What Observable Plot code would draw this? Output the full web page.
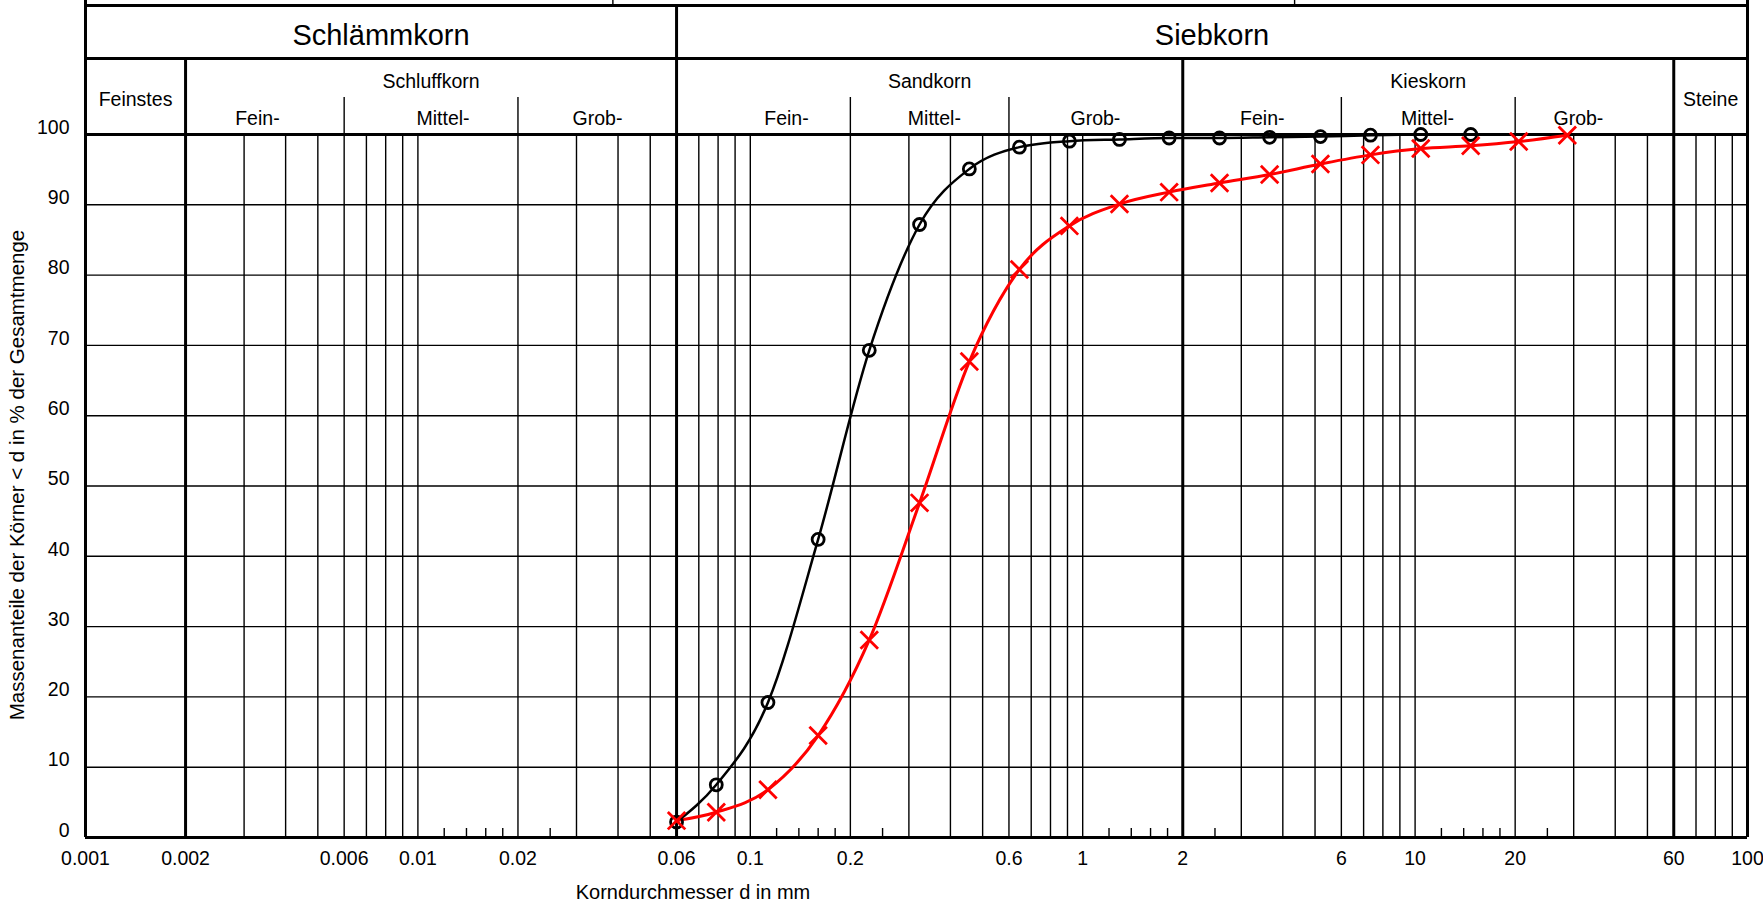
<!DOCTYPE html>
<html>
<head>
<meta charset="utf-8">
<script src="https://cdn.jsdelivr.net/npm/d3@7"></script>
<script src="https://cdn.jsdelivr.net/npm/@observablehq/plot@0.6"></script>
<style>
  html, body { margin: 0; padding: 0; background: white; overflow: hidden; }
  #chart svg { display: block; }
</style>
</head>
<body>
<div id="chart"></div>
<script>
// ---------- data ----------
// grain size (mm) and cumulative passing (%) — series 1 (black circles)
const sizes1 = [0.06, 0.079, 0.113, 0.16, 0.228, 0.323, 0.456, 0.645, 0.912, 1.29, 1.82, 2.58, 3.65, 5.19, 7.34, 10.4, 14.7];
const pass1  = [2.2, 7.5, 19.2, 42.4, 69.3, 87.2, 95.1, 98.2, 99.05, 99.3, 99.5, 99.5, 99.6, 99.7, 99.9, 100, 100];
// series 2 (red crosses)
const sizes2 = [0.06, 0.079, 0.113, 0.16, 0.228, 0.323, 0.456, 0.645, 0.912, 1.29, 1.82, 2.58, 3.65, 5.19, 7.34, 10.4, 14.7, 20.5, 28.7];
const pass2  = [2.4, 3.6, 6.8, 14.5, 28.1, 47.6, 67.7, 80.8, 87.0, 90.1, 91.8, 93.1, 94.3, 95.8, 97.1, 98.0, 98.4, 99.0, 99.9];

// axis ticks
const xTickValues = [0.001, 0.002, 0.006, 0.01, 0.02, 0.06, 0.1, 0.2, 0.6, 1, 2, 6, 10, 20, 60, 100];
const xTickLabels = ["0.001", "0.002", "0.006", "0.01", "0.02", "0.06", "0.1", "0.2", "0.6", "1", "2", "6", "10", "20", "60", "100"];
const yTickValues = [0, 10, 20, 30, 40, 50, 60, 70, 80, 90, 100];
const yGridThin = [10, 20, 30, 40, 50, 60, 70, 80, 90];

// vertical grid of the sieve chart
const gridThin = [0.003, 0.004, 0.005, 0.007, 0.008, 0.009, 0.01, 0.03, 0.04, 0.05, 0.07, 0.08, 0.09, 0.1,
                  0.3, 0.4, 0.5, 0.7, 0.8, 0.9, 1, 3, 4, 5, 7, 8, 9, 10, 30, 40, 50, 70, 80, 90];
const subDividers = [0.006, 0.02, 0.2, 0.6, 6, 20];
const minorTicks = [0.012, 0.014, 0.016, 0.018, 0.025, 0.12, 0.14, 0.16, 0.18, 0.25,
                    1.2, 1.4, 1.6, 1.8, 2.5, 12, 14, 16, 18, 25];
const classBounds = [0.002, 2, 60];
const mainBound = [0.06];
const frameEdges = [0.001, 100];
const topRowDividers = [0.0386, 4.34];

// header classes
const mainNames = ["Schlämmkorn", "Siebkorn"];
const mainFrom = [0.001, 0.06];
const mainTo = [0.06, 100];
const classNames = ["Feinstes", "Schluffkorn", "Sandkorn", "Kieskorn", "Steine"];
const classFrom = [0.001, 0.002, 0.06, 2, 60];
const classTo = [0.002, 0.06, 2, 60, 100];
const classHasSub = [false, true, true, true, false];
const subNames = ["Fein-", "Mittel-", "Grob-", "Fein-", "Mittel-", "Grob-", "Fein-", "Mittel-", "Grob-"];
const subAt = [0.00329, 0.0119, 0.0347, 0.1285, 0.358, 1.092, 3.47, 10.9, 31.0];

const xTitle = "Korndurchmesser d in mm";
const yTitle = "Massenanteile der Körner < d in % der Gesamtmenge";

// ---------- tables ----------
const s1 = sizes1.map((d, i) => ({d, p: pass1[i]}));
const s2 = sizes2.map((d, i) => ({d, p: pass2[i]}));
const mains = mainNames.map((name, i) => ({name, c: Math.sqrt(mainFrom[i] * mainTo[i])}));
const classes = classNames.map((name, i) => ({name, c: Math.sqrt(classFrom[i] * classTo[i]), sub: classHasSub[i]}));
const subs = subNames.map((name, i) => ({name, c: subAt[i]}));
const xTicksT = xTickValues.map((v, i) => ({v, label: xTickLabels[i]}));

const W = 1763, H = 905, MT = 134, MB = 68, ML = 85, MR = 16;
const plotH = H - MT - MB;
const thin = 1.4, thick = 3;
const small = 19.5;

const chart = Plot.plot({
  width: W, height: H,
  marginTop: MT, marginBottom: MB, marginLeft: ML, marginRight: MR,
  x: {type: "log", domain: [0.001, 100], axis: null},
  y: {domain: [0, 100], axis: null},
  style: {fontFamily: "'Liberation Sans', Arial, sans-serif", fontSize: "19.5px", color: "black", background: "white", overflow: "visible"},
  marks: [
    // grid
    Plot.ruleY(yGridThin, {stroke: "black", strokeWidth: thin}),
    Plot.ruleX(gridThin, {stroke: "black", strokeWidth: thin}),
    Plot.ruleX(subDividers, {stroke: "black", strokeWidth: thin, insetTop: -37}),
    Plot.ruleX(minorTicks, {stroke: "black", strokeWidth: thin, insetTop: plotH - 9}),
    Plot.ruleX(classBounds, {stroke: "black", strokeWidth: thick, insetTop: -76}),
    Plot.ruleX(mainBound, {stroke: "black", strokeWidth: thick, insetTop: -129}),
    Plot.ruleX(frameEdges, {stroke: "black", strokeWidth: thick, insetTop: -MT}),
    Plot.ruleX(topRowDividers, {stroke: "black", strokeWidth: thin, insetTop: -MT, insetBottom: plotH + 129}),
    Plot.ruleY([0, 100], {stroke: "black", strokeWidth: thick}),
    Plot.ruleY([100], {stroke: "black", strokeWidth: thick, dy: -76}),
    Plot.ruleY([100], {stroke: "black", strokeWidth: thick, dy: -129}),
    // header texts
    Plot.text(mains, {x: "c", text: "name", frameAnchor: "top", textAnchor: "middle", lineAnchor: "bottom", dy: 44 - MT, fontSize: 29}),
    Plot.text(classes.filter(d => d.sub), {x: "c", text: "name", frameAnchor: "top", textAnchor: "middle", lineAnchor: "bottom", dy: 87 - MT, fontSize: small}),
    Plot.text(classes.filter(d => !d.sub), {x: "c", text: "name", frameAnchor: "top", textAnchor: "middle", lineAnchor: "bottom", dy: 105 - MT, fontSize: small}),
    Plot.text(subs, {x: "c", text: "name", frameAnchor: "top", textAnchor: "middle", lineAnchor: "bottom", dy: 124 - MT, fontSize: small}),
    // tick labels
    Plot.text(xTicksT, {x: "v", text: "label", frameAnchor: "bottom", textAnchor: "middle", lineAnchor: "top", dy: 14, fontSize: small}),
    Plot.text(yTickValues, {y: d => d, text: d => String(d), frameAnchor: "left", textAnchor: "end", lineAnchor: "middle", dx: -16, dy: -7, fontSize: small}),
    // axis titles
    Plot.text([xTitle], {frameAnchor: "bottom", textAnchor: "middle", lineAnchor: "middle", dx: 692.5 - (ML + W - MR) / 2, dy: 55, fontSize: 20}),
    Plot.text([yTitle], {frameAnchor: "left", textAnchor: "middle", lineAnchor: "middle", rotate: -90, dx: 17 - ML, dy: -11, fontSize: 20.5}),
    // data
    Plot.line(s1, {x: "d", y: "p", curve: "monotone-x", stroke: "black", strokeWidth: 2.5}),
    Plot.line(s2, {x: "d", y: "p", curve: "monotone-x", stroke: "#ff0000", strokeWidth: 3}),
    Plot.dot(s1, {x: "d", y: "p", r: 6, stroke: "black", strokeWidth: 2.8, fill: "none"}),
    Plot.dot(s2, {x: "d", y: "p", r: 8, symbol: "times", stroke: "#ff0000", strokeWidth: 2.8})
  ]
});
document.getElementById("chart").appendChild(chart);
</script>
</body>
</html>
